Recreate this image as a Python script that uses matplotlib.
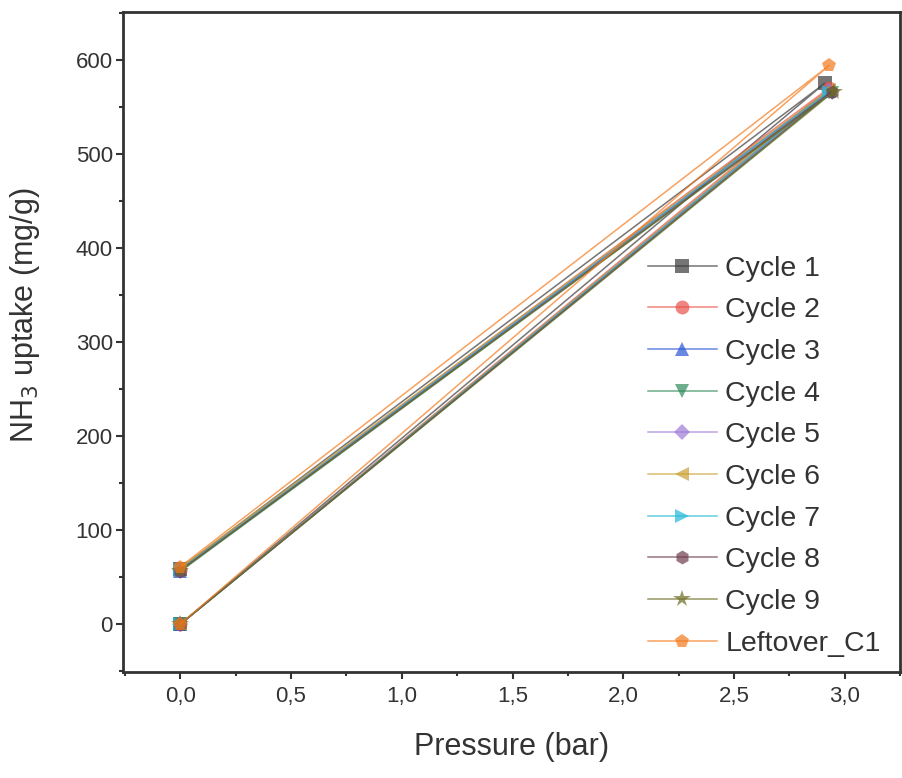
import numpy as np
import matplotlib
matplotlib.use('Agg')
from matplotlib import pyplot as plt
from matplotlib.ticker import MultipleLocator, FuncFormatter

matplotlib.rcParams['font.family'] = ['Liberation Sans', 'DejaVu Sans']

# each run: start (0 bar) -> max pressure -> back to 0 bar (residual)
labels = ['Cycle 1', 'Cycle 2', 'Cycle 3', 'Cycle 4', 'Cycle 5',
          'Cycle 6', 'Cycle 7', 'Cycle 8', 'Cycle 9', 'Leftover_C1']
p_max = [2.91, 2.93, 2.93, 2.94, 2.93, 2.93, 2.93, 2.94, 2.95, 2.93]
uptake_start = [0, 0, 0, 0, 0, 0, 0, 0, 0, 0]
uptake_max = [575, 570, 567, 565, 567, 568, 566, 566, 566, 594]
uptake_resid = [59, 58, 57, 56, 58, 60, 58, 57, 57, 61]

colors = ['#3a3a3a', '#e8524a', '#2a56d6', '#2e8a5a', '#a07ad8',
          '#c9a030', '#22b8d8', '#6e3c4c', '#6b6b22', '#f47a1c']
markers = ['s', 'o', '^', 'v', 'D', '<', '>', 'h', '*', 'p']

fig = plt.figure(figsize=(9.02, 7.78), dpi=100)
ax = fig.add_axes([0.136, 0.136, 0.862, 0.849])

for i, lab in enumerate(labels):
    xs = [0.0, p_max[i], 0.0]
    ys = [uptake_start[i], uptake_max[i], uptake_resid[i]]
    ms = 10
    if markers[i] == '*':
        ms = 13
    elif markers[i] == 'D':
        ms = 8
    ax.plot(xs, ys, color=colors[i], lw=1.1, alpha=0.7,
            marker=markers[i], markersize=ms, markeredgewidth=0,
            markerfacecolor=colors[i], label=lab)

ax.set_xlim(-0.26, 3.25)
ax.set_ylim(-51, 651)
ax.xaxis.set_major_locator(MultipleLocator(0.5))
ax.xaxis.set_minor_locator(MultipleLocator(0.25))
ax.yaxis.set_major_locator(MultipleLocator(100))
ax.yaxis.set_minor_locator(MultipleLocator(50))
ax.xaxis.set_major_formatter(FuncFormatter(lambda v, p: f'{v:.1f}'.replace('.', ',')))
ax.tick_params(which='major', direction='out', length=5, width=1.5,
               labelsize=16, colors='#333333')
ax.tick_params(axis='y', which='major', pad=2)
ax.tick_params(axis='x', which='major', pad=5)
ax.tick_params(which='minor', direction='out', length=3, width=1.5, colors='#333333')
for s in ax.spines.values():
    s.set_linewidth(2)
    s.set_color('#333333')

ax.set_xlabel('Pressure (bar)', fontsize=22, color='#333333', labelpad=18)
ax.set_ylabel('NH$_3$ uptake (mg/g)', fontsize=22, color='#333333')
ax.yaxis.set_label_coords(-0.104, 0.54)

ax.legend(loc='lower right', bbox_to_anchor=(0.995, 0.0), frameon=False,
          fontsize=20.5, handlelength=2.45, handletextpad=0.28,
          labelspacing=0.55, borderaxespad=0.15, labelcolor='#333333')

fig.savefig('out.png', dpi=100)
